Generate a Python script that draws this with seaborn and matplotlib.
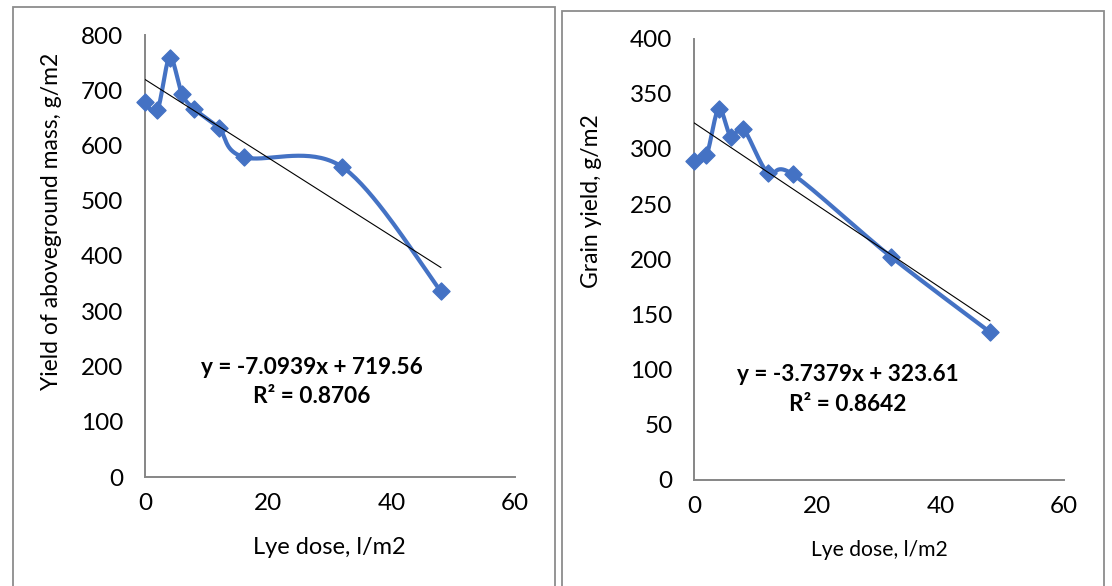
import numpy as np
import pandas as pd
import matplotlib
matplotlib.use("Agg")
import matplotlib.pyplot as plt
import seaborn as sns
from matplotlib.patches import Rectangle

# ---------------- data ----------------
dose = [0, 2, 4, 6, 8, 12, 16, 32, 48]
biomass = [678, 664, 759, 693, 666, 631, 579, 561, 336]
grain = [289, 294, 336, 311, 318, 278, 277, 202, 134]

biomass_slope, biomass_intercept = -7.0939, 719.56
grain_slope, grain_intercept = -3.7379, 323.61
biomass_eq = "y = -7.0939x + 719.56"
biomass_r2 = "R² = 0.8706"
grain_eq = "y = -3.7379x + 323.61"
grain_r2 = "R² = 0.8642"

x_ticks = [0, 20, 40, 60]
biomass_ticks = [0, 100, 200, 300, 400, 500, 600, 700, 800]
grain_ticks = [0, 50, 100, 150, 200, 250, 300, 350, 400]

xlabel = "Lye dose, l/m2"
biomass_ylabel = "Yield of aboveground mass, g/m2"
grain_ylabel = "Grain yield, g/m2"

BLUE = "#4472C4"
GREY = "#868686"

sns.set_style("white")
plt.rcParams["font.family"] = ["Lato", "DejaVu Sans"]


def smooth(xs, ys, xmax, ymax, n=40):
    """Excel-style smoothed line: Catmull-Rom Bezier in normalized space."""
    px = np.asarray(xs, float) / xmax * 370.0
    py = np.asarray(ys, float) / ymax * 442.0
    P = np.column_stack([px, py])
    P = np.vstack([P[0], P, P[-1]])
    out = []
    t = np.linspace(0, 1, n)[:, None]
    for i in range(1, len(P) - 2):
        p0, p1, p2, p3 = P[i - 1], P[i], P[i + 1], P[i + 2]
        c1 = p1 + (p2 - p0) / 6.0
        c2 = p2 - (p3 - p1) / 6.0
        seg = ((1 - t) ** 3) * p1 + 3 * ((1 - t) ** 2) * t * c1 + 3 * (1 - t) * t ** 2 * c2 + t ** 3 * p2
        out.append(seg if i == 1 else seg[1:])
    out = np.vstack(out)
    return out[:, 0] / 370.0 * xmax, out[:, 1] / 442.0 * ymax


W, H = 1112, 586
fig = plt.figure(figsize=(W / 100, H / 100), dpi=100)

# panel frames
fig.patches.append(Rectangle((13 / W, 0 - 0.01), (555 - 13) / W, 1 - 7 / H + 0.01,
                             transform=fig.transFigure, fill=False, edgecolor="#8c8c8c", lw=1.3))
fig.patches.append(Rectangle((562 / W, 0 - 0.01), (1104 - 562) / W, 1 - 11 / H + 0.01,
                             transform=fig.transFigure, fill=False, edgecolor="#8c8c8c", lw=1.3))

panels = [
    dict(rect=[145 / W, 1 - 477 / H, 370 / W, 442 / H], y=biomass, ymax=800, yt=biomass_ticks,
         slope=biomass_slope, icpt=biomass_intercept, eq=biomass_eq, r2=biomass_r2,
         ylab=biomass_ylabel, ylab_pos=(-0.252, 0.579), xlab_pos=(0.499, -0.16), xlab_fs=17,
         eq_pos=(0.4505, 0.247, 0.183)),
    dict(rect=[694 / W, 1 - 480 / H, 370 / W, 441.5 / H], y=grain, ymax=400, yt=grain_ticks,
         slope=grain_slope, icpt=grain_intercept, eq=grain_eq, r2=grain_r2,
         ylab=grain_ylabel, ylab_pos=(-0.277, 0.632), xlab_pos=(0.5, -0.159), xlab_fs=15.2,
         eq_pos=(0.416, 0.240, 0.172)),
]

for p in panels:
    ax = fig.add_axes(p["rect"])
    df = pd.DataFrame({"dose": dose, "value": p["y"]})
    sx, sy = smooth(dose, p["y"], 60, p["ymax"])
    sm = pd.DataFrame({"x": sx, "y": sy})
    tr = pd.DataFrame({"x": [dose[0], dose[-1]],
                       "y": [p["slope"] * dose[0] + p["icpt"], p["slope"] * dose[-1] + p["icpt"]]})

    sns.lineplot(data=sm, x="x", y="y", sort=False, estimator=None, ax=ax,
                 color=BLUE, lw=3.0, zorder=3, clip_on=False)
    sns.scatterplot(data=df, x="dose", y="value", ax=ax, marker="D", s=75,
                    color=BLUE, edgecolor=BLUE, linewidth=1.0, zorder=4, clip_on=False)
    sns.lineplot(data=tr, x="x", y="y", ax=ax, color="black", lw=0.8, zorder=5)

    ax.set_xlim(0, 60)
    ax.set_ylim(0, p["ymax"])
    ax.set_xticks(x_ticks)
    ax.set_yticks(p["yt"])
    for s in ["top", "right"]:
        ax.spines[s].set_visible(False)
    for s in ["left", "bottom"]:
        ax.spines[s].set_color(GREY)
        ax.spines[s].set_linewidth(1.4)
    ax.tick_params(axis="both", direction="out", color=GREY, width=1.0,
                   labelsize=17.5, labelcolor="black")
    ax.tick_params(axis="y", length=5.5, pad=10)
    ax.tick_params(axis="x", length=4.5, pad=7)
    ax.set_facecolor("none")

    ax.set_xlabel(xlabel, fontsize=p["xlab_fs"], color="black")
    ax.xaxis.set_label_coords(*p["xlab_pos"])
    ax.xaxis.label.set_va("center")
    ax.set_ylabel(p["ylab"], fontsize=16.5, color="black")
    ax.yaxis.set_label_coords(*p["ylab_pos"])
    ax.yaxis.label.set_va("center")

    ex, ey1, ey2 = p["eq_pos"]
    ax.text(ex, ey1, p["eq"], transform=ax.transAxes, ha="center", va="center",
            fontsize=16.3, fontweight="bold", color="black")
    ax.text(ex, ey2, p["r2"], transform=ax.transAxes, ha="center", va="center",
            fontsize=16.3, fontweight="bold", color="black")

fig.savefig("out.png", dpi=100)
